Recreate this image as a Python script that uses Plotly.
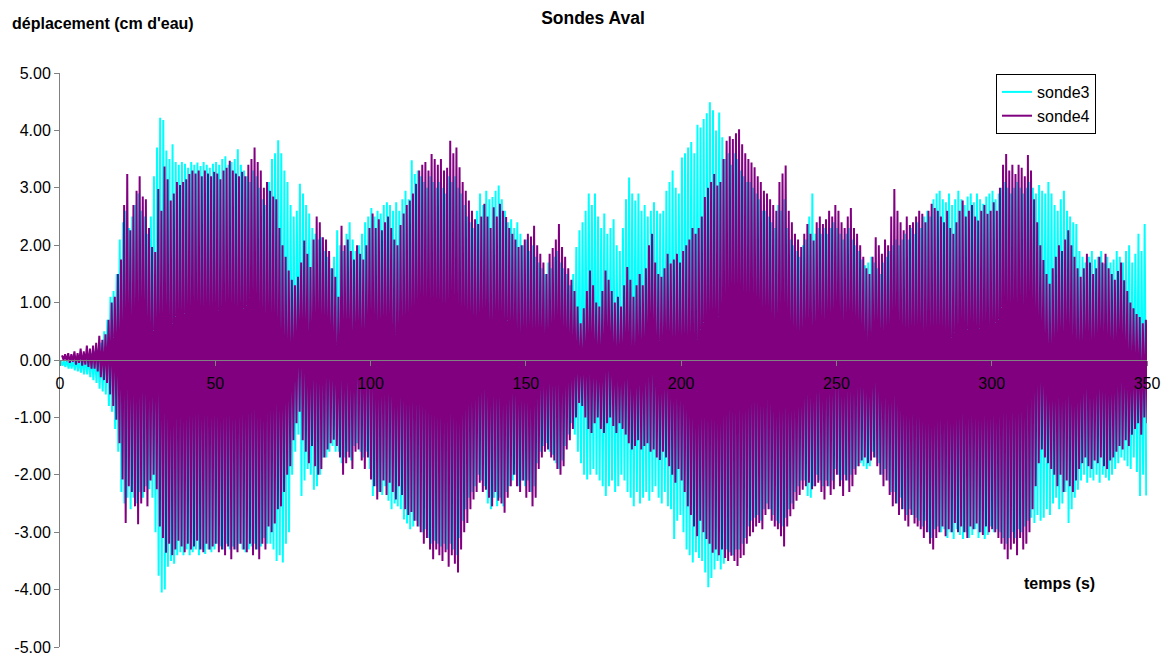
import plotly.graph_objects as go

# Crest (hi) and trough (lo) values of each wave cycle, one per second (t = 0..349 s)
sonde3_hi = [
    0.0, -0.02, 0.02, 0.0, 0.03, 0.05, 0.02, 0.06, 0.08, 0.1,
    0.12, 0.15, 0.2, 0.3, 0.5, 0.7, 1.1, 1.2, 1.5, 2.1,
    2.4, 2.6, 2.3, 2.5, 2.7, 2.9, 2.6, 2.5, 2.2, 2.5,
    3.2, 3.7, 4.22, 4.18, 3.65, 3.5, 3.76, 3.45, 3.4, 3.45,
    3.42, 3.35, 3.45, 3.4, 3.44, 3.38, 3.45, 3.4, 3.35, 3.42,
    3.45, 3.4, 3.5, 3.55, 3.4, 3.45, 3.5, 3.67, 3.4, 3.3,
    3.2, 3.1, 3.3, 3.2, 3.0, 2.8, 2.7, 3.1, 3.5, 3.6,
    3.83, 3.6, 3.3, 3.1, 2.7, 2.5, 2.6, 3.07, 2.9, 2.7,
    2.55, 2.3, 2.2, 2.1, 2.14, 1.9, 1.8, 1.6, 1.8, 2.26,
    2.0, 1.9, 2.2, 2.4, 2.1, 1.9, 2.0, 2.2, 2.4, 2.5,
    2.65, 2.5, 2.6, 2.55, 2.7, 2.75, 2.7, 2.6, 2.75, 2.6,
    2.8, 2.95, 2.8, 3.48, 3.24, 3.3, 3.2, 3.1, 3.0, 3.2,
    3.1, 3.0, 3.1, 3.0, 2.9, 3.2, 3.1, 3.2, 3.0, 2.9,
    2.7, 2.5, 2.4, 2.3, 2.6, 2.9, 2.7, 2.95, 2.8, 2.84,
    2.95, 3.04, 2.8, 2.6, 2.4, 2.45, 2.3, 2.4, 2.2, 2.0,
    2.1, 1.9, 2.0, 1.8, 1.7, 1.6, 1.5, 1.7, 1.6, 1.8,
    1.9, 1.7, 1.6, 1.5, 1.3, 1.5, 1.97, 2.26, 2.4, 2.6,
    2.9, 2.7, 2.9, 2.5, 2.3, 2.55, 2.2, 2.3, 2.45, 2.0,
    1.9, 2.3, 2.8, 3.18, 2.9, 2.78, 2.9, 2.6, 2.7, 2.5,
    2.6, 2.75, 2.6, 2.55, 2.6, 2.95, 3.1, 3.3, 3.0, 2.9,
    3.53, 3.6, 3.7, 3.8, 3.6, 4.1, 4.05, 4.2, 4.3, 4.49,
    4.35, 4.0, 4.31, 3.88, 3.5, 3.6, 3.4, 3.6, 3.5, 3.3,
    3.2, 3.1, 3.1, 3.0, 2.9, 2.8, 2.6, 2.6, 2.5, 2.4,
    2.3, 2.7, 2.6, 2.8, 2.3, 2.1, 2.0, 1.9, 1.8, 2.0,
    2.1, 2.5, 2.9, 2.2, 2.3, 2.2, 2.3, 2.2, 2.3, 2.4,
    2.3, 2.2, 2.1, 2.2, 2.3, 2.1, 2.0, 1.9, 1.75, 1.65,
    1.7, 1.8, 1.7, 1.6, 1.5, 1.7, 1.8, 1.9, 2.0, 2.1,
    2.0, 2.1, 2.2, 2.1, 2.3, 2.2, 2.4, 2.3, 2.5, 2.6,
    2.5, 2.8, 2.9, 2.95, 2.8, 2.75, 2.9, 2.7, 2.8, 2.95,
    2.8, 2.7, 2.85, 2.9, 2.75, 2.9, 2.8, 2.72, 2.85, 2.9,
    2.95, 2.8, 2.9, 3.0, 3.1, 3.0, 2.9, 3.0, 3.1, 3.0,
    2.9, 3.0, 3.1, 3.0, 2.9, 3.05, 2.95, 2.9, 3.1, 2.9,
    2.7, 2.6, 2.8, 2.95, 2.6, 2.5, 2.4, 2.37, 1.9, 1.8,
    1.7, 1.8, 1.9, 1.75, 1.8, 1.9, 1.68, 1.8, 1.7, 1.75,
    1.9, 1.8, 1.7, 1.9, 2.0, 1.7, 1.85, 2.2, 1.9, 2.37,
]
sonde3_lo = [
    -0.1, -0.12, -0.15, -0.15, -0.18, -0.2, -0.22, -0.25, -0.25, -0.3,
    -0.35, -0.4, -0.5, -0.55, -0.6, -0.8, -0.9, -1.2, -1.6, -2.3,
    -2.5, -2.4, -2.6, -2.4, -2.5, -2.3, -2.4, -2.2, -2.25, -2.4,
    -3.0, -3.76, -4.05, -4.0, -3.6, -3.5, -3.55, -3.4, -3.35, -3.4,
    -3.3, -3.4, -3.35, -3.3, -3.4, -3.3, -3.38, -3.3, -3.35, -3.3,
    -3.2, -3.25, -3.3, -3.2, -3.3, -3.25, -3.3, -3.2, -3.3, -3.35,
    -3.3, -3.25, -3.2, -3.3, -3.25, -3.1, -3.2, -3.2, -3.3, -3.5,
    -3.4, -3.53, -3.2, -3.0, -2.0, -1.6, -1.3, -2.37, -2.1, -1.9,
    -2.0, -2.26, -2.2, -2.0, -1.7, -1.7, -1.6, -1.5, -1.6, -1.6,
    -1.8, -1.7, -1.6, -1.75, -1.5, -1.45, -1.6, -1.7, -1.6, -1.9,
    -2.37, -2.2, -2.3, -2.35, -2.2, -2.45, -2.6, -2.5, -2.55, -2.6,
    -2.78, -2.85, -2.95, -2.9, -2.8, -2.9, -3.0, -2.95, -3.1, -3.2,
    -3.15, -3.2, -3.25, -3.2, -3.3, -3.2, -3.3, -3.4, -3.1, -2.8,
    -2.6, -2.4, -2.3, -2.2, -2.0, -2.1, -2.2, -2.5, -2.6, -2.4,
    -2.55, -2.4, -2.55, -2.3, -2.2, -2.1, -2.0, -2.2, -2.1, -2.2,
    -2.1, -2.3, -2.2, -1.8, -1.6, -1.5, -1.45, -1.6, -1.65, -1.8,
    -1.9, -1.75, -1.5, -1.3, -1.1, -1.3, -1.6, -1.8, -2.0, -2.08,
    -2.0, -1.9, -2.0, -2.1, -2.2, -2.37, -2.2, -2.1, -2.3, -2.2,
    -2.0, -2.1, -2.3, -2.4, -2.55, -2.3, -2.5, -2.4, -2.3, -2.45,
    -2.3, -2.2, -2.4, -2.5, -2.3, -2.55, -2.6, -3.12, -2.8, -2.7,
    -3.0, -3.3, -3.4, -3.53, -3.35, -3.45, -3.5, -3.7, -3.96, -3.8,
    -3.65, -3.5, -3.65, -3.55, -3.3, -3.35, -3.4, -3.3, -3.3, -3.2,
    -3.1, -2.9, -2.8, -2.75, -2.7, -2.8, -2.6, -2.5, -2.6, -2.7,
    -2.8, -2.85, -2.9, -2.75, -2.6, -2.5, -2.3, -2.2, -2.1, -2.1,
    -2.37, -2.4, -2.2, -2.0, -2.1, -2.2, -2.1, -2.2, -2.1, -1.9,
    -2.0, -2.1, -2.0, -2.1, -2.0, -1.9, -1.85, -1.8, -1.85, -1.9,
    -1.85, -1.6, -1.7, -1.8, -2.0, -1.9, -2.1, -2.3, -2.3, -2.5,
    -2.4, -2.6, -2.7, -2.6, -2.7, -2.75, -2.8, -2.9, -2.8, -3.0,
    -3.1, -2.95, -2.9, -3.0, -2.95, -3.1, -3.0, -3.12, -2.95, -3.05,
    -3.12, -3.0, -3.1, -3.05, -2.95, -3.1, -3.0, -3.12, -3.05, -2.9,
    -3.0, -2.95, -3.0, -3.1, -3.2, -3.1, -3.0, -3.1, -2.95, -3.0,
    -2.9, -2.8, -2.75, -2.84, -2.7, -2.8, -2.75, -2.6, -2.7, -2.5,
    -2.4, -2.6, -2.5, -2.3, -2.84, -2.6, -2.4, -2.26, -2.1, -2.0,
    -2.14, -2.05, -2.1, -2.0, -2.14, -2.0, -2.05, -2.1, -2.0, -1.9,
    -1.8, -1.7, -1.75, -1.85, -1.9, -1.7, -1.95, -2.37, -2.0, -2.36,
]
sonde4_hi = [
    0.08, 0.1, 0.12, 0.1, 0.15, 0.12, 0.2, 0.15, 0.25, 0.2,
    0.25, 0.3, 0.42, 0.35, 0.45, 0.7, 1.0, 1.1, 1.5, 1.75,
    2.7, 3.24, 2.26, 2.7, 2.95, 3.2, 2.85, 2.8, 2.3, 1.97,
    1.88, 2.98, 2.6, 3.37, 3.15, 2.78, 2.9, 3.1, 3.05, 3.1,
    3.15, 3.24, 3.3, 3.25, 3.3, 3.2, 3.3, 3.25, 3.2, 3.28,
    3.25, 3.15, 3.3, 3.35, 3.47, 3.3, 3.25, 3.2, 3.28, 3.2,
    3.4, 3.5, 3.7, 3.45, 3.3, 3.0, 3.1, 2.95, 2.85, 2.8,
    2.3, 2.0, 1.8, 1.56, 1.4, 1.3, 1.45, 1.7, 2.08, 1.85,
    1.62, 2.1, 2.5, 2.4, 2.14, 2.1, 1.9, 1.6, 1.45, 1.1,
    2.34, 2.0, 2.1, 1.9, 1.75, 2.0, 1.85, 1.75, 2.0, 2.3,
    2.55, 2.3, 2.45, 2.26, 2.4, 2.5, 2.3, 2.1, 2.0, 2.35,
    2.55, 2.7, 2.78, 2.9, 3.07, 3.3, 3.4, 3.45, 3.3, 3.59,
    3.5, 3.4, 3.5, 3.3, 3.35, 3.82, 3.6, 3.7, 3.36, 3.1,
    2.95, 2.78, 2.6, 2.45, 2.37, 2.5, 2.72, 2.5, 2.3, 2.66,
    2.5, 2.72, 2.6, 2.49, 2.3, 2.2, 2.1, 1.97, 2.0, 2.1,
    2.2, 2.15, 2.34, 2.0, 1.85, 1.7, 1.5, 1.85, 1.95, 2.1,
    2.37, 1.97, 1.8, 1.6, 1.4, 1.2, 0.93, 0.64, 0.9, 1.2,
    1.56, 1.3, 1.0, 0.93, 1.2, 1.56, 1.4, 1.2, 1.0, 1.1,
    0.93, 1.3, 1.62, 1.4, 1.1, 1.3, 1.5, 1.3, 1.6, 2.0,
    2.2, 1.7, 1.5, 1.45, 1.6, 1.85, 1.68, 1.75, 1.85, 1.7,
    1.9, 2.0, 2.1, 2.3, 2.2, 2.3, 2.5, 2.84, 3.0, 3.1,
    3.24, 3.04, 3.1, 3.5, 3.82, 3.9, 3.85, 3.95, 4.02, 3.76,
    3.6, 3.5, 3.44, 3.36, 3.2, 3.1, 2.95, 2.9, 2.8, 2.7,
    2.6, 3.1, 3.25, 3.39, 2.6, 2.4, 2.2, 2.1, 1.97, 2.2,
    2.37, 2.2, 2.08, 2.4, 2.5, 2.37, 2.45, 2.6, 2.5, 2.7,
    2.6, 2.4, 2.3, 2.5, 2.65, 2.3, 2.2, 2.0, 1.8, 1.6,
    1.5, 1.8, 2.14, 2.0, 1.85, 2.1, 2.0, 2.5, 2.98, 2.6,
    2.4, 2.26, 2.5, 2.35, 2.4, 2.5, 2.6, 2.55, 2.4, 2.6,
    2.72, 2.65, 2.6, 2.5, 2.4, 2.6, 2.3, 2.2, 2.4, 2.6,
    2.78, 2.5, 2.6, 2.7, 2.5, 2.43, 2.6, 2.7, 2.55, 2.6,
    2.75, 2.6, 3.0, 3.4, 3.59, 3.3, 3.4, 3.24, 3.4, 3.35,
    3.2, 3.57, 3.3, 2.8, 2.4, 2.0, 1.74, 1.5, 1.33, 1.6,
    1.8, 2.0, 1.9, 2.1, 2.26, 2.0, 1.8, 1.6, 1.45, 1.6,
    1.85, 1.7, 1.5, 1.6, 1.8, 1.7, 1.85, 1.6, 1.5, 1.4,
    1.55, 1.7, 1.39, 1.2, 1.0, 0.9, 0.8, 0.75, 0.64, 0.7,
]
sonde4_lo = [
    0.0, -0.02, -0.05, -0.03, -0.08, -0.05, -0.1, -0.08, -0.12, -0.15,
    -0.15, -0.2, -0.3, -0.35, -0.4, -0.6, -0.8, -1.04, -1.45, -2.08,
    -2.84, -2.2, -2.3, -2.55, -2.86, -2.5, -2.3, -2.55, -2.1, -2.0,
    -2.25, -2.9, -3.1, -3.36, -3.2, -3.4, -3.3, -3.15, -3.25, -3.35,
    -3.2, -3.3, -3.25, -3.15, -3.3, -3.35, -3.2, -3.3, -3.25, -3.2,
    -3.35, -3.3, -3.4, -3.25, -3.47, -3.3, -3.35, -3.2, -3.3, -3.35,
    -3.2, -3.4, -3.3, -3.47, -3.2, -3.3, -2.9, -3.0, -2.85, -2.6,
    -2.55, -2.3, -2.0, -1.85, -1.4, -1.1, -0.9, -1.4, -1.6, -1.8,
    -1.5, -1.85, -2.0, -1.9, -1.7, -1.56, -1.45, -1.39, -1.5, -1.7,
    -2.0, -1.8, -1.7, -1.9, -1.6, -1.56, -1.75, -1.9, -1.7, -2.08,
    -2.2, -2.43, -2.3, -2.1, -2.35, -2.14, -2.3, -2.43, -2.2, -2.35,
    -2.6, -2.7, -2.65, -2.8, -2.9, -3.0, -3.2, -3.1, -3.3, -3.47,
    -3.3, -3.4, -3.5, -3.35, -3.6, -3.4, -3.55, -3.7, -3.3, -3.0,
    -2.84, -2.6, -2.43, -2.3, -2.14, -2.3, -2.26, -2.4, -2.55, -2.3,
    -2.45, -2.5, -2.66, -2.4, -2.2, -2.0, -2.2, -2.3, -2.1, -2.4,
    -2.3, -2.55, -2.4, -1.9, -1.7, -1.6, -1.56, -1.7, -1.75, -1.9,
    -2.0, -1.85, -1.56, -1.4, -1.2, -1.0, -0.75, -0.8, -1.0, -1.2,
    -1.27, -1.1, -1.0, -1.2, -1.27, -1.1, -1.0, -1.15, -1.27, -1.1,
    -1.2, -1.3, -1.45, -1.56, -1.5, -1.4, -1.56, -1.5, -1.45, -1.6,
    -1.56, -1.7, -1.74, -1.6, -1.7, -1.85, -2.0, -2.14, -1.9, -2.1,
    -2.3, -2.55, -2.7, -2.9, -3.07, -2.8, -3.0, -3.12, -3.2, -3.36,
    -3.3, -3.4, -3.3, -3.45, -3.5, -3.41, -3.5, -3.59, -3.45, -3.4,
    -3.2, -3.07, -3.0, -2.9, -2.84, -2.95, -2.7, -2.6, -2.8, -2.9,
    -2.95, -3.07, -3.25, -2.9, -2.72, -2.6, -2.45, -2.35, -2.26, -2.2,
    -2.14, -2.25, -2.2, -2.14, -2.3, -2.43, -2.2, -2.35, -2.25, -2.0,
    -2.2, -2.37, -2.1, -2.3, -2.2, -2.0, -1.85, -1.75, -1.7, -1.8,
    -1.75, -1.7, -1.85, -2.0, -2.2, -2.1, -2.35, -2.55, -2.5, -2.7,
    -2.6, -2.8, -2.9, -2.7, -2.85, -2.9, -2.95, -3.1, -3.0, -3.2,
    -3.3, -3.1, -3.0, -2.9, -3.07, -2.95, -3.0, -2.84, -3.0, -2.9,
    -3.0, -3.1, -2.9, -2.95, -2.85, -3.0, -3.05, -2.9, -3.0, -2.95,
    -3.0, -3.1, -3.2, -3.3, -3.47, -3.3, -3.2, -3.4, -3.1, -3.3,
    -3.2, -3.0, -2.6, -2.2, -1.8, -1.56, -1.7, -1.8, -1.9, -2.0,
    -2.2, -2.0, -2.3, -2.1, -2.2, -2.3, -2.1, -1.9, -1.8, -1.7,
    -1.85, -1.9, -1.75, -1.8, -1.7, -1.85, -1.9, -1.75, -1.7, -1.6,
    -1.5, -1.56, -1.4, -1.5, -1.3, -1.2, -1.1, -1.3, -1.0, -1.1,
]

x_ticks = [0, 50, 100, 150, 200, 250, 300, 350]
y_ticks = [-5, -4, -3, -2, -1, 0, 1, 2, 3, 4, 5]


def wave(hi, lo, phase):
    n = min(len(hi), len(lo))
    xs, ys = [], []
    for k in range(n):
        xs += [k + phase + 0.25, k + phase + 0.75]
        ys += [hi[k], lo[k]]
    return xs, ys


x3, y3 = wave(sonde3_hi, sonde3_lo, 0.0)
x4, y4 = wave(sonde4_hi, sonde4_lo, 0.4)

FONT = "Liberation Sans, Arial, sans-serif"

fig = go.Figure()
fig.add_trace(go.Scatter(x=x3, y=y3, mode="lines", name="sonde3",
                         line=dict(color="#00FFFF", width=2)))
fig.add_trace(go.Scatter(x=x4, y=y4, mode="lines", name="sonde4",
                         line=dict(color="#800080", width=2)))

L, R, T, B = 60, 21, 73, 8
W, H = 1168, 655
pw, ph = W - L - R, H - T - B

fig.update_layout(
    width=W, height=H,
    margin=dict(l=L, r=R, t=T, b=B, pad=0, autoexpand=False),
    paper_bgcolor="white", plot_bgcolor="white",
    font=dict(family=FONT, size=16, color="black"),
    title=dict(text="<b>Sondes Aval</b>", x=593 / W, y=1 - 18 / H,
               xanchor="center", yanchor="middle",
               font=dict(family=FONT, size=17.5, color="black")),
    showlegend=True,
    legend=dict(x=(996 - L) / pw, y=1 - (74 - T) / ph, xanchor="left", yanchor="top",
                bgcolor="white", bordercolor="black", borderwidth=1,
                font=dict(family=FONT, size=16, color="black"),
                tracegroupgap=0, itemwidth=30),
    xaxis=dict(range=[0, 350], tickvals=x_ticks, ticktext=[str(v) for v in x_ticks],
               showgrid=False, zeroline=False, showline=True, linecolor="#808080",
               linewidth=1, ticks="outside", ticklen=5, tickcolor="#808080",
               anchor="free", position=0.5, tickfont=dict(size=16, color="black"),
               ticklabelstandoff=4, automargin=False),
    yaxis=dict(range=[-5, 5], tickvals=y_ticks, ticktext=[f"{v:.2f}" for v in y_ticks],
               showgrid=False, zeroline=False, showline=True, linecolor="#808080",
               linewidth=1, ticks="outside", ticklen=5, tickcolor="#808080",
               tickfont=dict(size=16, color="black"), ticklabeloverflow="allow",
               automargin=False),
    annotations=[
        dict(text="<b>déplacement (cm d'eau)</b>", xref="paper", yref="paper",
             x=(10 - L) / pw, y=(H - B - 24) / ph, xanchor="left", yanchor="middle",
             showarrow=False, font=dict(family=FONT, size=16, color="black")),
        dict(text="<b>temps (s)</b>", xref="paper", yref="paper",
             x=(1059 - L) / pw, y=(H - B - 583) / ph, xanchor="center", yanchor="middle",
             showarrow=False, font=dict(family=FONT, size=16, color="black")),
    ],
)

fig.write_html("out.html", config={"displayModeBar": False},
               post_script="document.body.style.margin='0';document.body.style.overflow='hidden';")
